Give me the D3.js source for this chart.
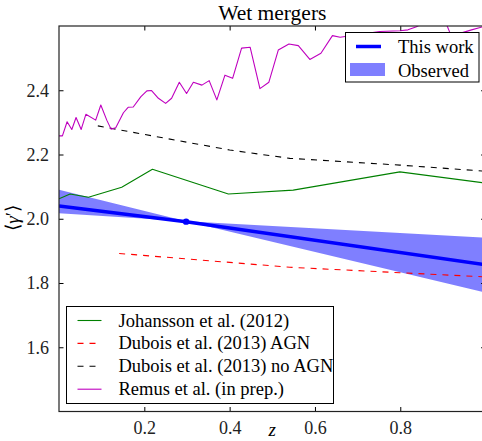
<!DOCTYPE html>
<html><head><meta charset="utf-8">
<script src="https://cdn.jsdelivr.net/npm/d3@7"></script>
<style>
html,body{margin:0;padding:0;background:#fff;}
svg{display:block;}
</style></head>
<body>
<svg id="chart" width="482" height="441"></svg>
<script>
// ---- data ----
const xTicks = [0.2, 0.4, 0.6, 0.8];
const yTicks = [1.6, 1.8, 2.0, 2.2, 2.4];

const thisWorkZ = [0, 0.298, 1.0];
const thisWorkG = [2.040, 1.991, 1.857];
const pivotZ = [0.298];
const pivotG = [1.991];

const bandZ = [0, 0.298, 1.0];
const bandUpper = [2.090, 1.992, 1.941];
const bandLower = [2.017, 1.992, 1.770];

const johZ = [0, 0.026, 0.069, 0.147, 0.219, 0.397, 0.549, 0.799, 1.0];
const johG = [2.062, 2.077, 2.067, 2.098, 2.154, 2.077, 2.089, 2.146, 2.111];

const duAgnZ = [0.141, 0.541, 0.799, 1.0];
const duAgnG = [1.892, 1.849, 1.832, 1.819];

const duNoZ = [0.091, 0.400, 0.541, 0.799, 1.0];
const duNoG = [2.289, 2.214, 2.188, 2.167, 2.148];

const remZ = [0.000, 0.008, 0.019, 0.030, 0.040, 0.052, 0.063, 0.086, 0.098, 0.112,
              0.122, 0.133, 0.151, 0.162, 0.174, 0.192, 0.206, 0.217, 0.233, 0.250,
              0.264, 0.282, 0.299, 0.315, 0.335, 0.352, 0.370, 0.389, 0.407, 0.428,
              0.448, 0.471, 0.492, 0.514, 0.539, 0.561, 0.588, 0.614, 0.641, 0.659,
              0.710, 0.752, 0.799, 0.818, 0.838, 0.870, 0.909, 0.917, 0.940, 0.967, 1.0];
const remG = [2.258, 2.258, 2.302, 2.278, 2.315, 2.278, 2.325, 2.307, 2.354, 2.307,
              2.279, 2.283, 2.330, 2.347, 2.348, 2.380, 2.398, 2.399, 2.375, 2.359,
              2.375, 2.425, 2.390, 2.425, 2.416, 2.430, 2.370, 2.447, 2.437, 2.531,
              2.534, 2.405, 2.425, 2.525, 2.544, 2.539, 2.496, 2.515, 2.570, 2.565,
              2.575, 2.583, 2.585, 2.588, 2.598, 2.620, 2.603, 2.577, 2.577, 2.588, 2.600];

const legendTop = ["This work", "Observed"];
const legendBottom = ["Johansson et al. (2012)", "Dubois et al. (2013) AGN",
                      "Dubois et al. (2013) no AGN", "Remus et al. (in prep.)"];

// ---- layout ----
const FONT = "'Liberation Serif', 'Times New Roman', serif";
const svg = d3.select("#chart");
const L = 59, R = 485.6, T = 26, B = 411.5;
const x = d3.scaleLinear().domain([0, 1]).range([L, R]);
const y = d3.scaleLinear().domain([1.4, 2.6]).range([B, T]);

svg.append("defs").append("clipPath").attr("id", "clip")
  .append("rect").attr("x", L).attr("y", T).attr("width", R - L).attr("height", B - T);

const plot = svg.append("g").attr("clip-path", "url(#clip)");

// band
const area = d3.area().x(d => x(d[0])).y0(d => y(d[2])).y1(d => y(d[1]));
plot.append("path")
  .datum(bandZ.map((z, i) => [z, bandUpper[i], bandLower[i]]))
  .attr("d", area).attr("fill", "#0000ff").attr("fill-opacity", 0.5);

const line = d3.line().x(d => x(d[0])).y(d => y(d[1]));
function drawLine(zs, gs, color, w, dash) {
  const p = plot.append("path")
    .datum(zs.map((z, i) => [z, gs[i]]))
    .attr("d", line).attr("fill", "none")
    .attr("stroke", color).attr("stroke-width", w)
    .attr("stroke-linejoin", "round");
  if (dash) p.attr("stroke-dasharray", dash);
}
drawLine(johZ, johG, "#008000", 1.1);
drawLine(duAgnZ, duAgnG, "#ff0000", 1.1, "6,6");
drawLine(duNoZ, duNoG, "#000000", 1.1, "6,6");
drawLine(remZ, remG, "#bf00bf", 1.1);
drawLine(thisWorkZ, thisWorkG, "#0000ff", 3.5);
plot.selectAll("circle.pv").data(pivotZ).enter().append("circle")
  .attr("cx", d => x(d)).attr("cy", (d, i) => y(pivotG[i])).attr("r", 3.2)
  .attr("fill", "#0000ff");

// axes (ticks inward on all sides)
const tl = 4.5;
const axB = svg.append("g").attr("transform", `translate(0,${B})`)
  .call(d3.axisBottom(x).tickValues(xTicks).tickFormat(d3.format(".1f")).tickSizeInner(-tl).tickSizeOuter(0).tickPadding(10));
const axT = svg.append("g").attr("transform", `translate(0,${T})`)
  .call(d3.axisTop(x).tickValues(xTicks).tickFormat("").tickSizeInner(-tl).tickSizeOuter(0));
const axL = svg.append("g").attr("transform", `translate(${L},0)`)
  .call(d3.axisLeft(y).tickValues(yTicks).tickFormat(d3.format(".1f")).tickSizeInner(-tl).tickSizeOuter(0).tickPadding(10));
const axR = svg.append("g").attr("transform", `translate(${R},0)`)
  .call(d3.axisRight(y).tickValues(yTicks).tickFormat("").tickSizeInner(-tl).tickSizeOuter(0));
[axB, axT, axL, axR].forEach(a => {
  a.select(".domain").remove();
  a.selectAll(".tick line").attr("stroke", "#000").attr("stroke-width", 1);
  a.selectAll("text").style("font-family", FONT).attr("font-size", 18).attr("fill", "#222");
});
svg.append("rect").attr("x", L).attr("y", T).attr("width", R - L).attr("height", B - T)
  .attr("fill", "none").attr("stroke", "#222").attr("stroke-width", 1.2);

// title and labels
svg.append("text").attr("x", (L + R) / 2).attr("y", 20).attr("text-anchor", "middle")
  .style("font-family", FONT).attr("font-size", 21.5).text("Wet mergers");
svg.append("text").attr("x", (L + R) / 2).attr("y", 436).attr("text-anchor", "middle")
  .style("font-family", FONT).attr("font-size", 19).attr("font-style", "italic").text("z");
const yl = svg.append("text").attr("transform", "translate(19,218) rotate(-90)")
  .attr("text-anchor", "middle").style("font-family", FONT).attr("font-size", 19);
yl.append("tspan").text("⟨");
yl.append("tspan").attr("font-style", "italic").text("γ");
yl.append("tspan").text("′⟩");

// legend top-right
const lg1 = svg.append("g");
lg1.append("rect").attr("x", 345.5).attr("y", 32.5).attr("width", 133.5).attr("height", 49.5)
  .attr("fill", "#fff").attr("stroke", "#000").attr("stroke-width", 1);
lg1.append("line").attr("x1", 356).attr("x2", 381).attr("y1", 46.5).attr("y2", 46.5)
  .attr("stroke", "#0000ff").attr("stroke-width", 3.5);
lg1.append("rect").attr("x", 350).attr("y", 63).attr("width", 35).attr("height", 13)
  .attr("fill", "#0000ff").attr("fill-opacity", 0.5);
lg1.selectAll("text").data(legendTop).enter().append("text")
  .attr("x", 398).attr("y", (d, i) => 53 + i * 23.5)
  .style("font-family", FONT).attr("font-size", 18.5).text(d => d);

// legend bottom-left
const lg2 = svg.append("g");
lg2.append("rect").attr("x", 66.5).attr("y", 306.5).attr("width", 267).attr("height", 97)
  .attr("fill", "#fff").attr("stroke", "#000").attr("stroke-width", 1);
const h2 = [
  {c: "#008000", d: null}, {c: "#ff0000", d: "6,6"}, {c: "#000000", d: "6,6"}, {c: "#bf00bf", d: null}
];
legendBottom.forEach((t, i) => {
  const cy = 320.5 + i * 22.9;
  const ln = lg2.append("line").attr("x1", 77.5).attr("x2", 101.5).attr("y1", cy).attr("y2", cy)
    .attr("stroke", h2[i].c).attr("stroke-width", 1.1);
  if (h2[i].d) ln.attr("stroke-dasharray", h2[i].d);
  lg2.append("text").attr("x", 118.5).attr("y", cy + 6)
    .style("font-family", FONT).attr("font-size", 18.5).text(t);
});
</script>
</body></html>
